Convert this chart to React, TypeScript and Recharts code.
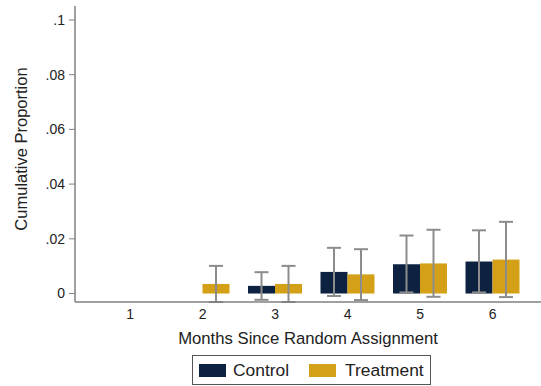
import React from 'react'
import { BarChart, Bar, XAxis, YAxis, ErrorBar } from 'recharts'

document.body.style.margin = '0'

const months = ['1', '2', '3', '4', '5', '6']
const controlValues = [null, null, 0.0028, 0.0079, 0.0107, 0.0117]
const controlLow = [null, null, -0.0023, -0.0009, 0.0004, 0.0004]
const controlHigh = [null, null, 0.0078, 0.0167, 0.0212, 0.0231]
const treatmentValues = [null, 0.0035, 0.0035, 0.007, 0.011, 0.0124]
const treatmentLow = [null, -0.0031, -0.0031, -0.0024, -0.0012, -0.0013]
const treatmentHigh = [null, 0.0101, 0.0101, 0.0162, 0.0233, 0.0262]
const yTicks = [0, 0.02, 0.04, 0.06, 0.08, 0.1]

const NAVY = '#0d2240'
const GOLD = '#d4a017'
const FONT = '"Liberation Sans", Arial, sans-serif'

const errOf = (v: number | null, lo: number | null, hi: number | null) =>
  v == null || lo == null || hi == null ? undefined : [v - lo, hi - v]

const data = months.map((m, i) => ({
  month: m,
  control: controlValues[i],
  controlErr: errOf(controlValues[i], controlLow[i], controlHigh[i]),
  treatment: treatmentValues[i],
  treatmentErr: errOf(treatmentValues[i], treatmentLow[i], treatmentHigh[i]),
}))

const legendItems = [
  { name: 'Control', color: NAVY },
  { name: 'Treatment', color: GOLD },
]

const fmt = (v: number) => (v === 0 ? '0' : String(v).replace(/^0/, ''))

export default function App() {
  return (
    <div style={{ position: 'relative', width: 541, height: 386, background: '#fff', fontFamily: FONT }}>
      <BarChart
        width={541}
        height={386}
        data={data}
        margin={{ top: 6, right: 0, bottom: 0, left: 0 }}
        barGap={0}
        barSize={27}
      >
        <XAxis
          dataKey="month"
          height={84}
          padding={{ left: 19, right: 12 }}
          tickLine={false}
          tickSize={0}
          tickMargin={7}
          axisLine={{ stroke: '#808080', strokeWidth: 1.5 }}
          tick={{ fill: '#222', fontSize: 14, fontFamily: FONT }}
          label={{
            value: 'Months Since Random Assignment',
            position: 'insideTop',
            offset: 30,
            style: { fill: '#222', fontSize: 16.7, fontFamily: FONT },
          }}
        />
        <YAxis
          width={75}
          domain={[-0.0031, 0.1051]}
          allowDataOverflow
          ticks={yTicks}
          tickFormatter={fmt}
          tickSize={6}
          tickMargin={4}
          tickLine={{ stroke: '#808080' }}
          axisLine={{ stroke: '#808080', strokeWidth: 1.5 }}
          tick={{ fill: '#222', fontSize: 14, fontFamily: FONT }}
          label={{
            value: 'Cumulative Proportion',
            angle: -90,
            position: 'insideLeft',
            offset: 21,
            dy: -5,
            style: { fill: '#222', fontSize: 16.5, fontFamily: FONT, textAnchor: 'middle' },
          }}
        />
        <Bar dataKey="control" fill={NAVY} isAnimationActive={false}>
          <ErrorBar dataKey="controlErr" width={7} stroke="#8c8c8c" strokeWidth={2} />
        </Bar>
        <Bar dataKey="treatment" fill={GOLD} isAnimationActive={false}>
          <ErrorBar dataKey="treatmentErr" width={7} stroke="#8c8c8c" strokeWidth={2} />
        </Bar>
      </BarChart>
      <div
        style={{
          position: 'absolute',
          left: 192,
          top: 355,
          width: 239,
          height: 30,
          boxSizing: 'border-box',
          border: '1px solid #555',
          display: 'flex',
          alignItems: 'center',
          paddingLeft: 6,
          fontSize: 17.4,
          color: '#222',
        }}
      >
        {legendItems.map((item, i) => (
          <div key={item.name} style={{ display: 'flex', alignItems: 'center', marginRight: i === 0 ? 20 : 0 }}>
            <div style={{ width: 27, height: 13, background: item.color, marginRight: i === 0 ? 7 : 9 }} />
            <span>{item.name}</span>
          </div>
        ))}
      </div>
    </div>
  )
}
